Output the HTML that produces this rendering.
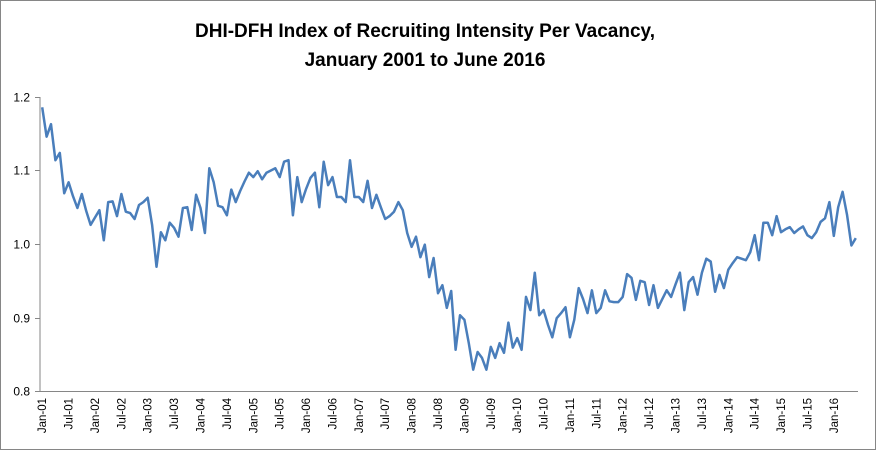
<!DOCTYPE html>
<html><head><meta charset="utf-8"><style>
html,body{margin:0;padding:0;background:#fff}
svg{display:block;font-family:"Liberation Sans",sans-serif}
</style></head><body>
<svg id="chart" width="876" height="451" viewBox="0 0 876 451" xmlns="http://www.w3.org/2000/svg">
<rect x="0.5" y="0.5" width="875" height="449" fill="#fff" stroke="#868686"/>
<text x="425" y="37" text-anchor="middle" font-size="19" font-weight="bold" fill="#000">DHI-DFH Index of Recruiting Intensity Per Vacancy,</text>
<text x="425" y="66" text-anchor="middle" font-size="19" font-weight="bold" fill="#000">January 2001 to June 2016</text>
<g id="axes"></g>
<g id="marks"></g>
</svg>
<script>
const yTicks=[0.8,0.9,1.0,1.1,1.2];
const yTickLabels=["0.8","0.9","1.0","1.1","1.2"];
const monthNames=["Jan","Jul"];
const startYear=2001;
const values=[1.186,1.146,1.163,1.114,1.124,1.069,1.084,1.065,1.049,1.068,1.045,1.026,1.036,1.046,1.005,1.057,1.058,1.038,1.068,1.044,
1.042,1.034,1.053,1.057,1.063,1.026,0.969,1.016,1.005,1.029,1.022,1.010,1.049,1.050,1.019,1.067,1.049,1.015,1.103,1.084,
1.052,1.050,1.039,1.074,1.057,1.072,1.085,1.097,1.091,1.099,1.088,1.097,1.100,1.103,1.091,1.112,1.114,1.039,1.091,1.057,
1.075,1.090,1.097,1.050,1.112,1.080,1.091,1.064,1.064,1.057,1.114,1.064,1.064,1.057,1.086,1.049,1.067,1.050,1.034,1.038,
1.044,1.057,1.046,1.015,0.996,1.010,0.982,0.999,0.955,0.981,0.933,0.944,0.913,0.936,0.856,0.903,0.897,0.865,0.829,0.853,
0.845,0.829,0.860,0.845,0.865,0.852,0.893,0.859,0.872,0.856,0.928,0.910,0.961,0.903,0.910,0.890,0.873,0.899,0.906,0.914,
0.873,0.897,0.940,0.925,0.906,0.937,0.906,0.913,0.937,0.922,0.921,0.921,0.928,0.959,0.954,0.924,0.950,0.948,0.917,0.944,
0.913,0.925,0.937,0.928,0.945,0.961,0.910,0.948,0.955,0.931,0.961,0.980,0.976,0.935,0.958,0.940,0.965,0.974,0.982,0.980,
0.978,0.989,1.012,0.978,1.029,1.029,1.012,1.038,1.016,1.020,1.023,1.015,1.020,1.024,1.012,1.008,1.016,1.030,1.035,1.057,
1.011,1.050,1.071,1.040,0.998,1.008];

const NS="http://www.w3.org/2000/svg";
const X0=40,X1=858,Y0=391,Y1=97;
const n=values.length;
const step=(X1-X0)/n;
function xs(i){return X0+step*(i+0.5);}
function ys(v){return Y0-(v-0.8)/(1.2-0.8)*(Y0-Y1);}
const axes=document.getElementById('axes');
const marks=document.getElementById('marks');
function mk(tag,attrs,parent){const e=document.createElementNS(NS,tag);for(const k in attrs)e.setAttribute(k,attrs[k]);parent.appendChild(e);return e;}

const yAxis=mk('line',{x1:X0,y1:Y1,x2:X0,y2:Y0,stroke:'#868686'},axes);


const xAxis=mk('line',{x1:X0,y1:Y0+0.5,x2:X1,y2:Y0+0.5,stroke:'#868686'},axes);



yTicks.forEach((t,k)=>{
  const y=Math.round(ys(t))+0.5;
  const tk=mk('line',{x1:X0-5,y1:y,x2:X0,y2:y,stroke:'#868686'},axes);
  
  
  const lb=mk('text',{x:X0-10,y:y+4,'text-anchor':'end','font-size':12,fill:'#000'},axes);
  
  
  lb.textContent=yTickLabels[k];
});

for(let i=0;i<n;i+=6){
  const yr=startYear+Math.floor(i/12);
  const label=monthNames[(i%12)/6]+"-"+String(yr%100).padStart(2,'0');
  const x=xs(i)+4;
  const lb=mk('text',{x:0,y:0,transform:`translate(${x},398) rotate(-90)`,'text-anchor':'end','font-size':11.5,fill:'#000'},axes);
  
  
  lb.textContent=label;
}

const pts=values.map((v,i)=>xs(i).toFixed(1)+","+ys(v).toFixed(1)).join(" ");
const line=mk('polyline',{points:pts,fill:'none',stroke:'#4a7ebb',"stroke-width":2.5,"stroke-linejoin":'round'},marks);


</script>
</body></html>
